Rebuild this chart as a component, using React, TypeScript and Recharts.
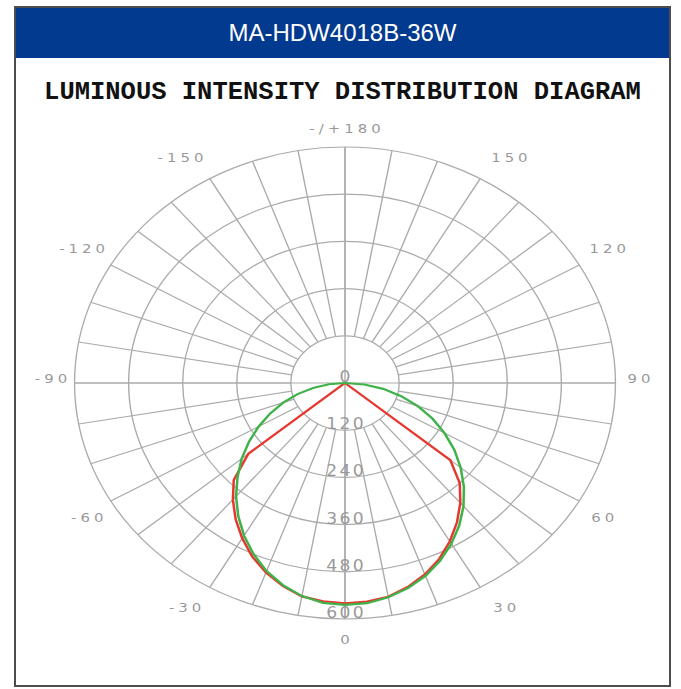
import React from 'react';
import { RadarChart, Radar, PolarGrid, PolarAngleAxis, PolarRadiusAxis } from 'recharts';

// gamma angles in 5° steps, listed clockwise from the top (180) as the radar draws them;
// 0 = straight down, positive on the right, negative on the left
const angles = [
  180, 175, 170, 165, 160, 155, 150, 145, 140, 135, 130, 125, 120, 115, 110, 105, 100, 95,
  90, 85, 80, 75, 70, 65, 60, 55, 50, 45, 40, 35, 30, 25, 20, 15, 10, 5,
  0, -5, -10, -15, -20, -25, -30, -35, -40, -45, -50, -55, -60, -65, -70, -75, -80, -85,
  -90, -95, -100, -105, -110, -115, -120, -125, -130, -135, -140, -145, -150, -155, -160, -165, -170, -175,
];

// C0/C180 plane (green), cd
const greenCurve = [
  0, 0, 0, 0, 0, 0, 0, 0, 0, 0, 0, 0, 0, 0, 0, 0, 0, 0,
  0, 43, 86, 129, 172, 214, 255, 296, 335, 373, 409, 442, 472, 499, 522, 540, 553, 562,
  564, 561, 550, 532, 509, 480, 448, 413, 376, 337, 299, 260, 221, 183, 146, 109, 72, 36,
  0, 0, 0, 0, 0, 0, 0, 0, 0, 0, 0, 0, 0, 0, 0, 0, 0, 0,
];

// C90/C270 plane (red), cd
const redCurve = [
  0, 0, 0, 0, 0, 0, 0, 0, 0, 0, 0, 0, 0, 0, 0, 0, 0, 0,
  0, 0, 0, 0, 0, 0, 0, 0, 305, 360, 398, 433, 465, 494, 518, 537, 552, 558,
  560, 557, 551, 534, 513, 487, 456, 423, 387, 349, 280, 0, 0, 0, 0, 0, 0, 0,
  0, 0, 0, 0, 0, 0, 0, 0, 0, 0, 0, 0, 0, 0, 0, 0, 0, 0,
];

// 10° spokes of the grid
const spokeAngles = [
  180, 170, 160, 150, 140, 130, 120, 110, 100, 90, 80, 70, 60, 50, 40, 30, 20, 10,
  0, -10, -20, -30, -40, -50, -60, -70, -80, -90, -100, -110, -120, -130, -140, -150, -160, -170,
];

const radiusTicks = [0, 120, 240, 360, 480, 600];

const rows = angles.map((angle, i) => ({ angle, green: greenCurve[i], red: redCurve[i] }));
const spokeRows = spokeAngles.map((angle) => ({ angle, v: 1 }));

const CX = 345;
const CY = 383;
const R = 236;
const STRETCH = 1.146;
const GRID = '#ababab';
const LABEL = '#999999';

// small nudges of the angle labels (outward x on each side, y)
const labelNudge: Record<number, [number, number]> = {
  0: [0, 0],
  30: [8.5, -3],
  60: [-2, 3],
  90: [0.5, -5],
  120: [2.5, -4],
  150: [12.5, 1],
  180: [0, 1],
};

function AngleTick(props: any) {
  const { x, y, payload } = props;
  const v = Number(payload.value);
  if (v % 30 !== 0) return null;
  let px = x;
  let py = y;
  if (v % 90 === 0) {
    const dx = CX - x;
    const dy = CY - y;
    const len = Math.sqrt(dx * dx + dy * dy) || 1;
    px = x + (dx / len) * 6;
    py = y + (dy / len) * 6;
  }
  const [nx, ny] = labelNudge[Math.abs(v)] || [0, 0];
  px += v < 0 ? -nx : nx;
  py += ny;
  return (
    <text
      x={px + 1.7}
      y={py}
      dy="0.36em"
      textAnchor="middle"
      fill={LABEL}
      fontSize={13}
      fontFamily="DejaVu Sans"
      letterSpacing={3.5}
    >
      {v === 180 ? '-/+180' : String(v)}
    </text>
  );
}

function RadiusTick(props: any) {
  const { x, y, payload } = props;
  return (
    <text
      x={x + 1}
      y={y - 1}
      textAnchor="middle"
      fill={LABEL}
      fontSize={15}
      fontFamily="DejaVu Sans"
      letterSpacing={2}
    >
      {payload.value}
    </text>
  );
}

const margin = { top: 0, right: 0, bottom: 0, left: 0 };

export default function App() {
  return (
    <div style={{ position: 'absolute', left: 0, top: 0, width: 681, height: 689, overflow: 'hidden', background: '#fff' }}>
      <div
        style={{
          position: 'absolute',
          left: 0,
          top: 0,
          width: 690,
          height: 689,
          transform: `scaleX(${STRETCH})`,
          transformOrigin: `${CX}px ${CY}px`,
        }}
      >
        {/* spokes, starting at the first ring */}
        <div style={{ position: 'absolute', left: 0, top: 0 }}>
          <RadarChart
            width={690}
            height={689}
            data={spokeRows}
            cx={CX}
            cy={CY}
            innerRadius={R / 5}
            outerRadius={R}
            margin={margin}
          >
            <PolarGrid gridType="circle" polarRadius={[]} stroke={GRID} strokeWidth={1.2} />
            <PolarAngleAxis dataKey="angle" tick={false} axisLine={false} tickLine={false} />
            <Radar dataKey="v" stroke="none" fill="none" dot={false} isAnimationActive={false} />
          </RadarChart>
        </div>
        <div style={{ position: 'absolute', left: 0, top: 0 }}>
          <RadarChart
            width={690}
            height={689}
            data={rows}
            cx={CX}
            cy={CY}
            outerRadius={R}
            margin={margin}
          >
            <PolarGrid gridType="circle" polarAngles={[0, 90, 180, 270]} stroke={GRID} strokeWidth={1.2} />
            <PolarAngleAxis dataKey="angle" tick={AngleTick} tickSize={26} axisLine={false} tickLine={false} />
            <PolarRadiusAxis
              angle={-90}
              domain={[0, 600]}
              ticks={radiusTicks}
              tickCount={6}
              tick={RadiusTick}
              axisLine={false}
            />
            <Radar dataKey="red" stroke="#e6382f" strokeWidth={2.2} fill="none" dot={false} isAnimationActive={false} />
            <Radar dataKey="green" stroke="#3fb24a" strokeWidth={2.2} fill="none" dot={false} isAnimationActive={false} />
          </RadarChart>
        </div>
      </div>

      <div
        style={{
          position: 'absolute',
          left: 14,
          top: 6,
          width: 657,
          height: 681,
          border: '2px solid #4d4d4d',
          boxSizing: 'border-box',
        }}
      />
      <div
        style={{
          position: 'absolute',
          left: 16,
          top: 8,
          width: 653,
          height: 50,
          background: '#023a8f',
          color: '#fff',
          fontFamily: 'Liberation Sans, Arial, sans-serif',
          fontSize: 24,
          lineHeight: '50px',
          textAlign: 'center',
        }}
      >
        MA-HDW4018B-36W
      </div>
      <div
        style={{
          position: 'absolute',
          left: 16,
          top: 78,
          width: 653,
          fontFamily: 'Liberation Mono, Courier New, monospace',
          fontWeight: 'bold',
          fontSize: 25.5,
          lineHeight: '30px',
          textAlign: 'center',
          color: '#111',
        }}
      >
        LUMINOUS INTENSITY DISTRIBUTION DIAGRAM
      </div>
    </div>
  );
}
